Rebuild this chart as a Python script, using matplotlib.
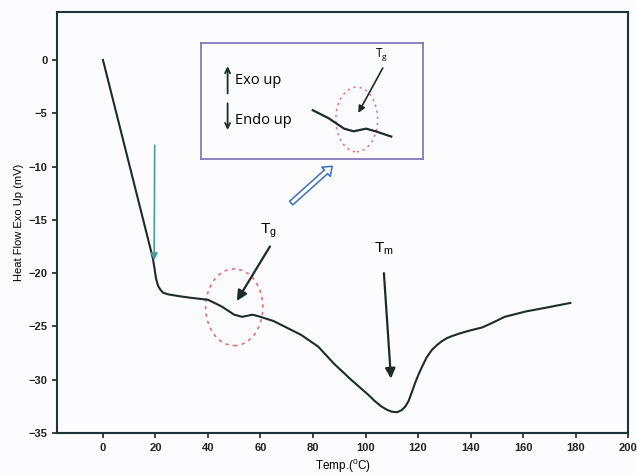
import matplotlib.pyplot as plt
import numpy as np
from matplotlib.patches import Ellipse, FancyArrowPatch

plt.rcParams['font.family'] = ['Liberation Sans', 'DejaVu Sans']
plt.rcParams['mathtext.default'] = 'regular'

# DSC heat flow trace
temp = [0, 19, 19.6, 20.2, 21, 22, 23, 25, 30, 33, 40, 45, 50, 53, 57, 60, 65,
        71.5, 75.5, 82, 88, 94.5, 101, 103.5, 106, 108, 110, 112, 113.8, 115.2,
        116.4, 117.6, 118.9, 120.2, 121.5, 123.3, 125.3, 127.2, 129, 131, 133,
        136, 139.5, 144.4, 148, 153, 161, 167.5, 178]
heat = [0, -18.6, -19.5, -20.5, -21.2, -21.6, -21.85, -22.0, -22.2, -22.3, -22.5,
        -23.1, -23.9, -24.1, -23.9, -24.1, -24.5, -25.3, -25.8, -26.9, -28.5, -30.0,
        -31.4, -32.0, -32.5, -32.8, -33.0, -33.05, -32.85, -32.5, -32.0, -31.2,
        -30.3, -29.5, -28.8, -27.9, -27.2, -26.75, -26.4, -26.1, -25.9, -25.65,
        -25.4, -25.1, -24.7, -24.1, -23.6, -23.3, -22.8]

xticks = list(range(0, 201, 20))
yticks = list(range(-35, 1, 5))

line_c = '#1d2b2b'

fig = plt.figure(figsize=(6.37, 4.74), dpi=100, facecolor='#fcfcfe')
ax = fig.add_axes([0.0895, 0.0865, 0.8965, 0.8882], facecolor='#fcfcfe')

ax.plot(temp, heat, color=line_c, lw=1.5, solid_joinstyle='round')
ax.set_xlim(-17.5, 200)
ax.set_ylim(-35, 4.5)
ax.set_xticks(xticks)
ax.set_yticks(yticks)
ax.tick_params(direction='out', length=3.5, width=1.2, labelsize=8, colors='#222')
for lab in ax.get_xticklabels() + ax.get_yticklabels():
    lab.set_fontweight('bold')
for s in ax.spines.values():
    s.set_color('#1e3434')
    s.set_linewidth(1.5)
ax.set_xlabel('Temp.($^{0}$C)', fontsize=8.5, labelpad=3)
ax.set_ylabel('Heat Flow Exo Up (mV)', fontsize=8, labelpad=3)

# marker at the start of the scan
ax.annotate('', xy=(19.5, -18.8), xytext=(19.7, -8.0),
            arrowprops=dict(arrowstyle='-|>', color='#4a9a9a', lw=1.2,
                            mutation_scale=10, shrinkA=0, shrinkB=0))

# glass transition
ax.add_patch(Ellipse((50, -23.2), 21.8, 7.2, fill=False, ec='#e07080',
                     lw=1.2, ls=(0, (2, 2.5))))
ax.annotate('', xy=(51, -22.6), xytext=(63.6, -17.5),
            arrowprops=dict(arrowstyle='-|>', color=line_c, lw=1.6,
                            mutation_scale=15, shrinkA=0, shrinkB=0))
ax.text(63, -16, 'T$_g$', fontsize=11, ha='center', va='center')

# melting
ax.annotate('', xy=(109.7, -29.9), xytext=(107, -20.0),
            arrowprops=dict(arrowstyle='-|>', color=line_c, lw=1.6,
                            mutation_scale=15, shrinkA=0, shrinkB=0))
ax.text(107, -17.7, 'T$_m$', fontsize=11, ha='center', va='center')

# hollow pointer towards the zoomed view
ax.add_patch(FancyArrowPatch((70.9, -13.6), (88.1, -9.8),
                             arrowstyle='Simple,tail_width=3.5,head_width=9,head_length=6',
                             fc='white', ec='#3a6fc0', lw=1.1))

# zoomed view of the Tg region
ins = fig.add_axes([0.3155, 0.6646, 0.3485, 0.2447], facecolor='#fcfcfe')
t = np.array(temp)
h = np.array(heat)
m = (t >= 40) & (t <= 68)
ins.plot(t[m], h[m], color=line_c, lw=1.6)
ins.set_xlim(4.4, 75.1)
ins.set_ylim(-26.2, -17.4)
ins.set_xticks([])
ins.set_yticks([])
for s in ins.spines.values():
    s.set_color('#7a70b8')
    s.set_linewidth(1.2)
ins.add_patch(Ellipse((54, -23.2), 13.3, 4.9, fill=False, ec='#e07080',
                      lw=1.1, ls=(0, (1.5, 2.5))))
ins.annotate('', xy=(54.5, -22.7), xytext=(62.3, -19.3),
             arrowprops=dict(arrowstyle='-|>', color=line_c, lw=1.2,
                             mutation_scale=10, shrinkA=0, shrinkB=0))
ins.text(61.9, -18.3, 'T$_g$', fontsize=8.5, ha='center', va='center',
         family=['Open Sans', 'DejaVu Sans'])

ins.annotate('', xy=(0.12, 0.80), xytext=(0.12, 0.565), xycoords='axes fraction',
             arrowprops=dict(arrowstyle='->', color=line_c, lw=1.3,
                             mutation_scale=9, shrinkA=0, shrinkB=0))
ins.annotate('', xy=(0.12, 0.25), xytext=(0.12, 0.48), xycoords='axes fraction',
             arrowprops=dict(arrowstyle='->', color=line_c, lw=1.3,
                             mutation_scale=9, shrinkA=0, shrinkB=0))
ins.text(0.155, 0.68, 'Exo up', transform=ins.transAxes, fontsize=10.5,
         va='center', family=['Open Sans', 'DejaVu Sans'])
ins.text(0.155, 0.335, 'Endo up', transform=ins.transAxes, fontsize=10.5,
         va='center', family=['Open Sans', 'DejaVu Sans'])

fig.savefig('out.png', dpi=100, facecolor=fig.get_facecolor())
